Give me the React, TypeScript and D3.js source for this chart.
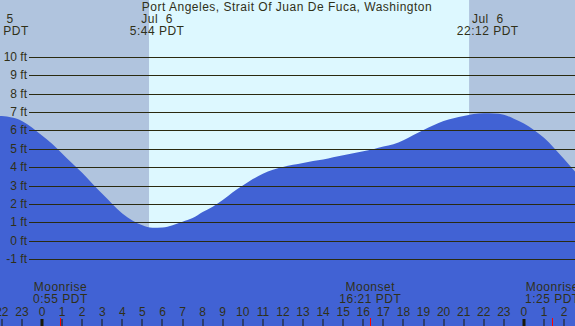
import React from "react";
import * as d3 from "d3";

const title = "Port Angeles, Strait Of Juan De Fuca, Washington";

// tide heights (ft), every half hour, hours from midnight Jul 6
const tideHours = d3.range(-2.5, 27.01, 0.5);
const tideFeet = [
  6.82, 6.78, 6.7, 6.52, 6.16, 5.72, 5.28, 4.75, 4.21, 3.69, 3.11, 2.55, 2.0, 1.48,
  1.1, 0.83, 0.7, 0.71, 0.84, 1.03, 1.23, 1.56, 1.85, 2.21, 2.64, 3.0, 3.35, 3.64,
  3.86, 4.01, 4.13, 4.23, 4.33, 4.42, 4.54, 4.65, 4.76, 4.87, 4.98, 5.12, 5.25,
  5.47, 5.75, 6.02, 6.28, 6.51, 6.67, 6.78, 6.89, 6.93, 6.92, 6.86, 6.64, 6.38,
  6.02, 5.6, 5.05, 4.45, 3.82, 3.2,
];

const feetTicks = [10, 9, 8, 7, 6, 5, 4, 3, 2, 1, 0, -1];
const hourTicks = d3.range(-2, 27);

// daylight band as shaded in the picture
const dayShade = [5.33, 21.27];

const sunEvents = [
  { hour: -2.2, date: "Jul  5", time: "22:12 PDT" },
  { hour: 5.733, date: "Jul  6", time: "5:44 PDT" },
  { hour: 22.2, date: "Jul  6", time: "22:12 PDT" },
];

const moonEvents = [
  { hour: 0.917, name: "Moonrise", time: "0:55 PDT" },
  { hour: 16.35, name: "Moonset", time: "16:21 PDT" },
  { hour: 25.417, name: "Moonrise", time: "1:25 PDT" },
];

const W = 575;
const H = 326;
const ink = "#303018";
const font = "'Liberation Sans', Arial, sans-serif";

export default function App() {
  const x = d3.scaleLinear().domain([0, 24]).range([42, 523.9]);
  const y = d3.scaleLinear().domain([-1, 10]).range([258.96, 57]);

  const pts = tideHours.map((h, i) => ({ h, v: tideFeet[i] }));
  const area = d3
    .area<{ h: number; v: number }>()
    .x((d) => x(d.h))
    .y0(H)
    .y1((d) => y(d.v))
    .curve(d3.curveMonotoneX);

  const hourLabel = (h: number) => String(((h % 24) + 24) % 24);

  return (
    <div style={{ position: "fixed", left: 0, top: 0 }}>
      <svg width={W} height={H} style={{ display: "block" }} fontFamily={font}>
        <rect x={0} y={0} width={W} height={H} fill="#b0c4de" />
        <rect
          x={x(dayShade[0])}
          y={0}
          width={x(dayShade[1]) - x(dayShade[0])}
          height={H}
          fill="#ddf8ff"
        />
        <path d={area(pts) || ""} fill="#4162d4" />

        {feetTicks.map((f) => (
          <g key={f}>
            <line
              x1={29}
              x2={W}
              y1={Math.round(y(f)) + 0.5}
              y2={Math.round(y(f)) + 0.5}
              stroke="#2a2a10"
              strokeWidth={1}
            />
            <text
              x={27}
              y={y(f) + 4}
              textAnchor="end"
              fontSize={12}
              fill={ink}
            >
              {f} ft
            </text>
          </g>
        ))}

        <text
          x={287}
          y={11}
          textAnchor="middle"
          fontSize={12}
          letterSpacing={0.5}
          fill={ink}
        >
          {title}
        </text>

        {sunEvents.map((s, i) => (
          <g key={i} fontSize={12} fill={ink} textAnchor="middle" letterSpacing={0.5}>
            <text x={x(s.hour)} y={23} style={{ whiteSpace: "pre" }}>
              {s.date}
            </text>
            <text x={x(s.hour)} y={35}>
              {s.time}
            </text>
          </g>
        ))}

        {moonEvents.map((m, i) => (
          <g key={i} fontSize={12} fill={ink} textAnchor="middle" letterSpacing={0.5}>
            <text x={x(m.hour)} y={291}>
              {m.name}
            </text>
            <text x={x(m.hour)} y={303}>
              {m.time}
            </text>
            <line
              x1={Math.round(x(m.hour)) + 0.5}
              x2={Math.round(x(m.hour)) + 0.5}
              y1={318}
              y2={H}
              stroke="#ff0000"
            />
          </g>
        ))}

        {hourTicks.map((h) => {
          const mid = ((h % 24) + 24) % 24 === 0;
          const px = Math.round(x(h));
          return (
            <g key={h}>
              <text x={x(h)} y={316} textAnchor="middle" fontSize={12} fill={ink}>
                {hourLabel(h)}
              </text>
              <rect
                x={mid ? px - 1.5 : px - 0.5}
                y={319}
                width={mid ? 3 : 1}
                height={H - 319}
                fill="#1a1a08"
              />
            </g>
          );
        })}
      </svg>
    </div>
  );
}
